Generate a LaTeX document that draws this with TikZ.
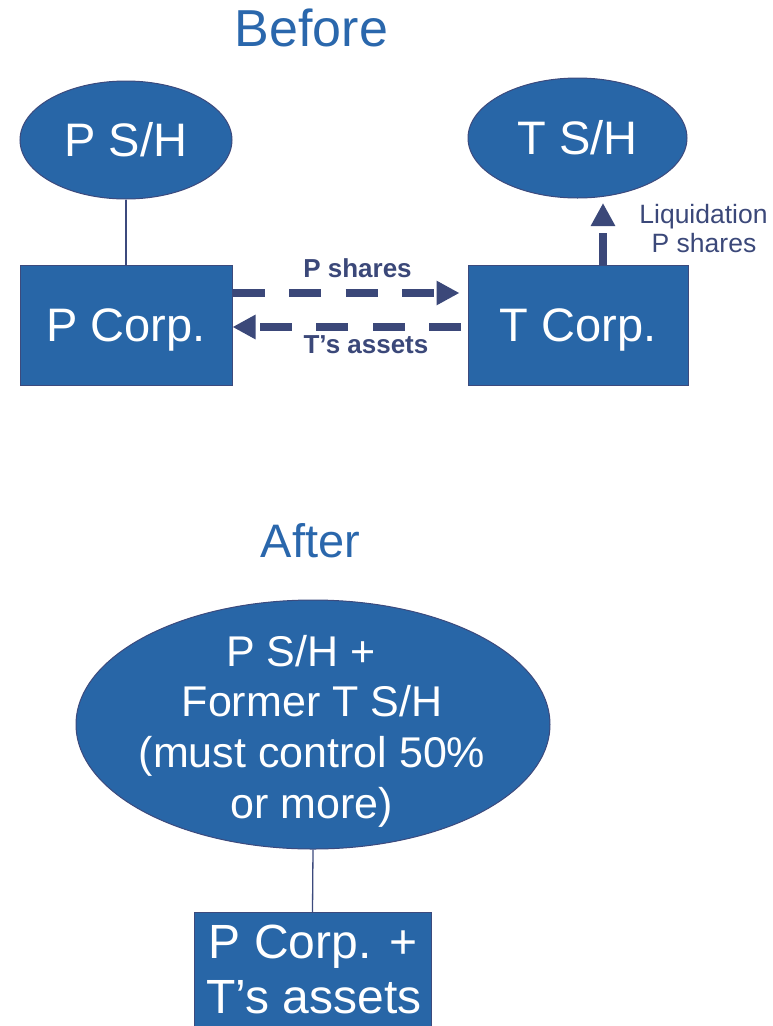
\documentclass[tikz,border=0pt]{standalone}
\usepackage{fontspec}
\setmainfont{Liberation Sans}
\usetikzlibrary{shapes.geometric,arrows.meta}
\definecolor{boxblue}{HTML}{2866A7}
\definecolor{edgec}{HTML}{3C4A7D}
\definecolor{navy}{HTML}{3B4879}
\definecolor{titleblue}{HTML}{2A67AC}
\tikzset{
  shp/.style={fill=boxblue, draw=edgec, line width=1pt, inner sep=0pt, text=white,
    font=\fontsize{47}{50}\selectfont, text height=33pt, text depth=0pt},
  oval/.style={shp, ellipse, minimum width=212pt, minimum height=118pt},
  boxnode/.style={shp, rectangle, minimum width=212pt, minimum height=120pt},
  conn/.style={draw=edgec, line width=1.3pt},
  flow/.style={draw=navy, line width=8pt, dash pattern=on 32pt off 24.5pt,
    -{Triangle[length=23pt,width=23pt]}},
  lbl/.style={text=navy, inner sep=0pt, anchor=base},
  bold lbl/.style={lbl, font=\fontsize{26}{30}\selectfont\bfseries},
  liq lbl/.style={lbl, font=\fontsize{26.5}{30}\selectfont},
  title/.style={text=titleblue, inner sep=0pt, anchor=base},
  inner txt/.style={text=white, inner sep=0pt, anchor=base}
}
\begin{document}
\begin{tikzpicture}[x=1pt,y=-1pt]
\useasboundingbox (0,0) rectangle (772,1026);
\clip (0,0) rectangle (772,1026);

% Before
\node[title, font=\fontsize{52}{56}\selectfont] (before) at (311.5,46) {Before};
\node[oval] (psh) at (126,140) {P S/H};
\node[oval, minimum width=219pt, minimum height=120pt] (tsh) at (577.5,138) {T S/H};
\node[boxnode] (pcorp) at (126,325) {P Corp.};
\node[boxnode, minimum width=220pt] (tcorp) at (578,325) {T Corp.};
\draw[conn] (psh.south) -- (pcorp.north);

\draw[flow, shorten >=8pt] ([yshift=32pt]pcorp.east) -- ([yshift=32pt]tcorp.west);
\draw[flow, dash phase=50pt] ([yshift=-2pt]tcorp.west) -- ([yshift=-2pt]pcorp.east);
\node[bold lbl] (pshares) at (357.5,277) {P shares};
\node[bold lbl] (tassets) at (366,353) {T’s assets};

\coordinate (liqtip) at (603,203);
\draw[flow] ([xshift=25pt]tcorp.north) -- (liqtip);
\node[liq lbl] (liq1) at (703.5,223) {Liquidation};
\node[liq lbl] (liq2) at (704,252) {P shares};

% After
\node[title, font=\fontsize{47}{50}\selectfont] (after) at (310.5,557) {After};
\node[shp, ellipse, minimum width=474pt, minimum height=249pt] (merged) at (313,724.5) {};
\node[inner txt, font=\fontsize{43}{50}\selectfont] (m1) at (301,666) {P S/H +};
\node[inner txt, font=\fontsize{43}{50}\selectfont] (m2) at (312,716) {Former T S/H};
\node[inner txt, font=\fontsize{43}{50}\selectfont] (m3) at (312,767) {(must control 50\%};
\node[inner txt, font=\fontsize{43}{50}\selectfont] (m4) at (312,818) {or more)};
\node[shp, rectangle, anchor=north, minimum width=237pt, minimum height=140pt] (final) at (312.5,912) {};
\node[inner txt, font=\fontsize{48}{54}\selectfont] (f1) at (313,958) {P Corp. +};
\node[inner txt, font=\fontsize{48}{54}\selectfont] (f2) at (314,1013) {T’s assets};
\draw[conn] (merged.south) -- (final.north);
\end{tikzpicture}
\end{document}
